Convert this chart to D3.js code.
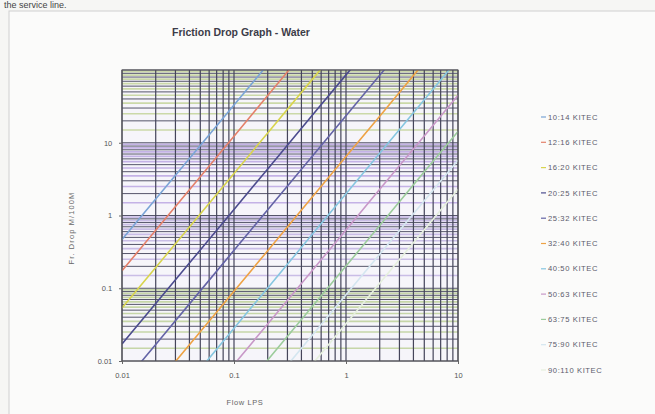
<!DOCTYPE html>
<html>
<head>
<meta charset="utf-8">
<script src="https://cdn.jsdelivr.net/npm/d3@7/dist/d3.min.js"></script>
<style>
  html, body { margin: 0; padding: 0; background: #f6f6f4; }
  svg { display: block; }
  text { font-family: "Liberation Sans", Arial, sans-serif; }
</style>
</head>
<body>
<svg id="chart" width="655" height="414"></svg>
<script>
// ---- data ----
const flows = [0.01, 0.02, 0.05, 0.1, 0.2, 0.5, 1, 2, 5, 10];
const seriesNames = ["10:14 KITEC", "12:16 KITEC", "16:20 KITEC", "20:25 KITEC", "25:32 KITEC",
  "32:40 KITEC", "40:50 KITEC", "50:63 KITEC", "63:75 KITEC", "75:90 KITEC", "90:110 KITEC"];
const kitec1014 = [0.467, 1.68, 9.16, 33.0, 119, null, null, null, null, null];
const kitec1216 = [0.174, 0.628, 3.42, 12.3, 44.5, 243, null, null, null, null];
const kitec1620 = [0.0535, 0.193, 1.05, 3.79, 13.6, 74.3, 268, null, null, null];
const kitec2025 = [0.0171, 0.0617, 0.336, 1.21, 4.37, 23.8, 85.7, 309, null, null];
const kitec2532 = [0.00469, 0.0169, 0.092, 0.332, 1.20, 6.52, 23.5, 84.7, 461, null];
const kitec3240 = [null, 0.00464, 0.0253, 0.091, 0.328, 1.79, 6.45, 23.2, 127, null];
const kitec4050 = [null, null, 0.00778, 0.0281, 0.101, 0.551, 1.99, 7.16, 39.0, 141];
const kitec5063 = [null, null, null, 0.00895, 0.0323, 0.176, 0.634, 2.29, 12.4, 44.9];
const kitec6375 = [null, null, null, 0.00286, 0.0103, 0.0562, 0.202, 0.730, 3.98, 14.3];
const kitec7590 = [null, null, null, null, 0.00414, 0.0226, 0.0813, 0.293, 1.60, 5.76];
const kitec90110 = [null, null, null, null, null, 0.00904, 0.0326, 0.117, 0.639, 2.30];
const seriesValues = [kitec1014, kitec1216, kitec1620, kitec2025, kitec2532, kitec3240,
  kitec4050, kitec5063, kitec6375, kitec7590, kitec90110];
const xTickLabels = ["0.01", "0.1", "1", "10"];
const yTickLabels = ["0.01", "0.1", "1", "10"];

// ---- styling ----
const colors = ["#7aa4d6", "#e4806a", "#d8d44e", "#4c4c8e", "#6464a6", "#eea244",
  "#86c6e0", "#c898c8", "#9ccc9c", "#d4e6f0", "#e6f0de"];
const plot = {left: 122, right: 458, top: 70, bottom: 361};

const svg = d3.select("#chart");
const defs = svg.append("defs");
defs.append("filter").attr("id", "soft")
  .append("feGaussianBlur").attr("stdDeviation", 0.45);
defs.append("clipPath").attr("id", "pclip").append("rect")
  .attr("x", plot.left).attr("y", plot.top)
  .attr("width", plot.right - plot.left).attr("height", plot.bottom - plot.top);

// page fragment and chart frame
svg.append("text").attr("x", 4).attr("y", 8).attr("font-size", 9).attr("fill", "#444")
  .text("the service line.");
svg.append("rect").attr("x", 9).attr("y", 11).attr("width", 660).attr("height", 420)
  .attr("fill", "#fbfbfa").attr("stroke", "#cfcfcf").attr("stroke-width", 1);

const x = d3.scaleLog().domain([0.01, 10]).range([plot.left, plot.right]);
const y = d3.scaleLog().domain([0.01, 100]).range([plot.bottom, plot.top]);

const g = svg.append("g").attr("filter", "url(#soft)");
g.append("rect").attr("x", plot.left).attr("y", plot.top)
  .attr("width", plot.right - plot.left).attr("height", plot.bottom - plot.top)
  .attr("fill", "#f6f5fa");

// horizontal half-step coloured lines
const halfColors = ["#c6d6a8", "#c9bde6", "#c4b2e6", "#cbd9a8"];
const halfVals = [];
[0.01, 0.1, 1, 10].forEach((dec, i) => {
  for (let k = 1; k < 10; k++) halfVals.push({v: (k + 0.5) * dec, c: halfColors[i]});
});
g.append("g").selectAll("line").data(halfVals).join("line")
  .attr("x1", plot.left).attr("x2", plot.right)
  .attr("y1", d => y(d.v)).attr("y2", d => y(d.v))
  .attr("stroke", d => d.c).attr("stroke-width", 1.6);

// dark minor/major gridlines
const yGrid = [], xGrid = [];
[0.01, 0.1, 1, 10].forEach(dec => { for (let k = 1; k < 10; k++) yGrid.push(k * dec); });
yGrid.push(100);
[0.01, 0.1, 1].forEach(dec => { for (let k = 1; k < 10; k++) xGrid.push(k * dec); });
xGrid.push(10);
g.append("g").selectAll("line").data(yGrid).join("line")
  .attr("x1", plot.left).attr("x2", plot.right)
  .attr("y1", d => y(d)).attr("y2", d => y(d))
  .attr("stroke", "#55556a").attr("stroke-width", 1);
g.append("g").selectAll("line").data(xGrid).join("line")
  .attr("y1", plot.top).attr("y2", plot.bottom)
  .attr("x1", d => x(d)).attr("x2", d => x(d))
  .attr("stroke", "#44445a").attr("stroke-width", 1.2);

// series lines
const line = d3.line()
  .defined(d => d[1] != null)
  .x(d => x(d[0])).y(d => y(d[1]));
g.append("g").attr("clip-path", "url(#pclip)")
  .selectAll("path").data(seriesValues).join("path")
  .attr("d", vals => line(flows.map((f, i) => [f, vals[i]])))
  .attr("fill", "none")
  .attr("stroke", (d, i) => colors[i])
  .attr("stroke-width", 1.6);

g.append("rect").attr("x", plot.left).attr("y", plot.top)
  .attr("width", plot.right - plot.left).attr("height", plot.bottom - plot.top)
  .attr("fill", "none").attr("stroke", "#555").attr("stroke-width", 1);

// axes
const xAxis = d3.axisBottom(x).tickValues(xTickLabels.map(Number))
  .tickFormat((d, i) => xTickLabels[i]).tickSize(3);
const yAxis = d3.axisLeft(y).tickValues(yTickLabels.map(Number))
  .tickFormat((d, i) => yTickLabels[i]).tickSize(3);
const ax = svg.append("g").attr("transform", `translate(0,${plot.bottom})`).call(xAxis);
const ay = svg.append("g").attr("transform", `translate(${plot.left},0)`).call(yAxis);
[ax, ay].forEach(a => {
  a.select(".domain").remove();
  a.selectAll("line").attr("stroke", "#666");
  a.selectAll("text").attr("font-size", 7.5).attr("fill", "#555")
    .attr("font-family", "Liberation Sans, Arial, sans-serif");
});
ax.selectAll("text").attr("dy", "1.5em");
ay.selectAll("text").attr("dx", "-0.5em");

// titles
svg.append("text").attr("x", 241).attr("y", 36).attr("text-anchor", "middle")
  .attr("font-size", 10.5).attr("font-weight", "bold").attr("fill", "#3c3c48")
  .text("Friction Drop Graph - Water");
svg.append("text").attr("x", 245).attr("y", 405).attr("text-anchor", "middle")
  .attr("font-size", 7.5).attr("letter-spacing", 0.6).attr("fill", "#666").text("Flow LPS");
svg.append("text").attr("transform", "translate(74,228) rotate(-90)")
  .attr("text-anchor", "middle").attr("font-size", 7.5).attr("letter-spacing", 1.1)
  .attr("fill", "#666").text("Fr. Drop M/100M");

// legend
const legend = svg.append("g").selectAll("g").data(seriesNames).join("g")
  .attr("transform", (d, i) => `translate(541,${117 + i * 25.3})`);
legend.append("line").attr("x1", 0).attr("x2", 5).attr("y1", 0).attr("y2", 0)
  .attr("stroke", (d, i) => colors[i]).attr("stroke-width", 1.2);
legend.append("text").attr("x", 7).attr("y", 2.6).attr("font-size", 7.6)
  .attr("letter-spacing", 0.6).attr("fill", "#5a5a6a").text(d => d);
</script>
</body>
</html>
